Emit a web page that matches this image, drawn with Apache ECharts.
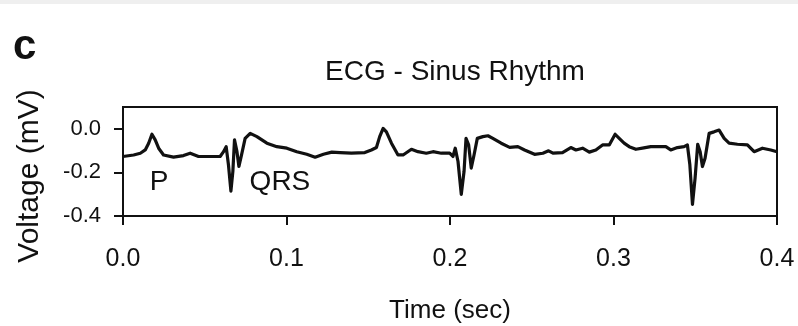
<!DOCTYPE html>
<html>
<head>
<meta charset="utf-8">
<script src="https://cdn.jsdelivr.net/npm/echarts@6/dist/echarts.min.js"></script>
<style>
  html, body { margin: 0; padding: 0; background: #fff; }
  #container { width: 798px; height: 326px; }
</style>
</head>
<body>
<div id="container"></div>
<script>
// ECG trace (time in sec, voltage in mV)
const timeSec = [
  0.0, 0.0065, 0.0106, 0.0136, 0.0157, 0.0177, 0.0197, 0.0218, 0.0248, 0.0309,
  0.037, 0.0411, 0.0462, 0.0513, 0.0594, 0.0615, 0.0631, 0.0645, 0.066, 0.0672,
  0.0682, 0.0697, 0.0709, 0.0725, 0.0747, 0.0778, 0.0819, 0.088, 0.0941, 0.1002,
  0.1063, 0.1124, 0.1175, 0.1226, 0.1277, 0.1328, 0.1397, 0.1479, 0.1519, 0.155,
  0.157, 0.1591, 0.1611, 0.1642, 0.1682, 0.1713, 0.1764, 0.1804, 0.1855, 0.1896,
  0.1947, 0.1998, 0.2018, 0.2032, 0.2049, 0.2069, 0.2086, 0.2098, 0.2114, 0.213,
  0.2147, 0.2167, 0.2201, 0.2232, 0.2262, 0.2313, 0.2365, 0.2415, 0.2456, 0.2517,
  0.2568, 0.2603, 0.263, 0.2688, 0.2739, 0.277, 0.2811, 0.2852, 0.2892, 0.2933,
  0.2974, 0.301, 0.3035, 0.3065, 0.3096, 0.3137, 0.3177, 0.3228, 0.3279, 0.332,
  0.335, 0.3391, 0.3432, 0.3452, 0.3467, 0.3483, 0.3499, 0.3515, 0.353, 0.3544,
  0.356, 0.3585, 0.3615, 0.3646, 0.3677, 0.3707, 0.3758, 0.3819, 0.386, 0.3911,
  0.3962, 0.4
];
const voltageMv = [
  -0.127, -0.12, -0.112, -0.097, -0.066, -0.025, -0.051, -0.089, -0.12, -0.13,
  -0.123, -0.112, -0.127, -0.127, -0.127, -0.105, -0.082, -0.165, -0.286, -0.195,
  -0.051, -0.105, -0.173, -0.12, -0.044, -0.021, -0.036, -0.066, -0.082, -0.089,
  -0.105, -0.117, -0.13, -0.117, -0.107, -0.109, -0.112, -0.109, -0.097, -0.086,
  -0.036, 0.002, -0.014, -0.066, -0.12, -0.12, -0.094, -0.105, -0.112, -0.105,
  -0.112, -0.112, -0.127, -0.089, -0.15, -0.301, -0.195, -0.044, -0.074, -0.18,
  -0.12, -0.044, -0.036, -0.032, -0.044, -0.066, -0.085, -0.082, -0.097, -0.117,
  -0.112, -0.101, -0.112, -0.109, -0.086, -0.097, -0.089, -0.107, -0.097, -0.074,
  -0.074, -0.025, -0.044, -0.066, -0.082, -0.094, -0.089, -0.082, -0.082, -0.082,
  -0.097, -0.086, -0.082, -0.074, -0.165, -0.347, -0.226, -0.071, -0.105, -0.173,
  -0.135, -0.021, -0.014, -0.006, -0.044, -0.066, -0.071, -0.074, -0.105, -0.089,
  -0.097, -0.105
];
const yTicks = [-0.4, -0.2, 0.0];
const annotations = [
  { text: "P", t: 0.022, v: -0.247 },
  { text: "QRS", t: 0.096, v: -0.247 }
];

const font = "'Liberation Sans', Arial, sans-serif";
const fmt = (v) => (Math.abs(v) < 1e-9 ? "0.0" : v.toFixed(1));

const chart = echarts.init(document.getElementById("container"), null, { renderer: "canvas" });

const option = {
  animation: false,
  backgroundColor: "#fff",
  title: {
    text: "ECG - Sinus Rhythm",
    left: 450,
    textAlign: "center",
    top: 53,
    textStyle: { fontFamily: font, fontSize: 28, fontWeight: "normal", color: "#111" }
  },
  graphic: [
    { type: "rect", left: 0, top: 0, shape: { width: 798, height: 4 }, style: { fill: "#efefef" } },
    {
      type: "text", left: 13, top: 26,
      style: { text: "c", fontFamily: font, fontSize: 42, fontWeight: "bold", fill: "#111" }
    },
    {
      type: "text", x: 30, y: 176, rotation: Math.PI / 2,
      style: {
        text: "Voltage (mV)", fontFamily: font, fontSize: 30, fill: "#111",
        align: "center", verticalAlign: "middle"
      }
    }
  ],
  grid: {
    left: 123, right: 21, top: 107, bottom: 110,
    show: true, borderColor: "#111", borderWidth: 2, backgroundColor: "transparent"
  },
  xAxis: {
    type: "value",
    min: 0, max: 0.4, interval: 0.1,
    name: "Time (sec)",
    nameLocation: "middle",
    nameGap: 82,
    nameTextStyle: { fontFamily: font, fontSize: 26, color: "#111" },
    axisLine: { show: true, onZero: false, lineStyle: { color: "#111", width: 2 } },
    axisTick: { show: true, inside: false, length: 9, lineStyle: { color: "#111", width: 2 } },
    axisLabel: { formatter: fmt, margin: 31, fontFamily: font, fontSize: 25, color: "#111" },
    splitLine: { show: false }
  },
  yAxis: {
    type: "value",
    min: -0.4, max: 0.1,
    axisLine: { show: true, onZero: false, lineStyle: { color: "#111", width: 2 } },
    axisTick: { show: true, inside: false, length: 9, customValues: yTicks, lineStyle: { color: "#111", width: 2 } },
    axisLabel: { formatter: fmt, customValues: yTicks, margin: 22, fontFamily: font, fontSize: 22, color: "#111" },
    splitLine: { show: false }
  },
  series: [
    {
      type: "line",
      data: timeSec.map((t, i) => [t, voltageMv[i]]),
      showSymbol: false,
      symbol: "none",
      lineStyle: { color: "#111", width: 3.2, join: "round" },
      markPoint: {
        symbol: "circle",
        symbolSize: 0,
        label: { show: true, position: "inside", fontFamily: font, fontSize: 28, color: "#111" },
        data: annotations.map((a) => ({
          coord: [a.t, a.v],
          label: { formatter: a.text }
        }))
      }
    }
  ]
};

chart.setOption(option);
</script>
</body>
</html>
